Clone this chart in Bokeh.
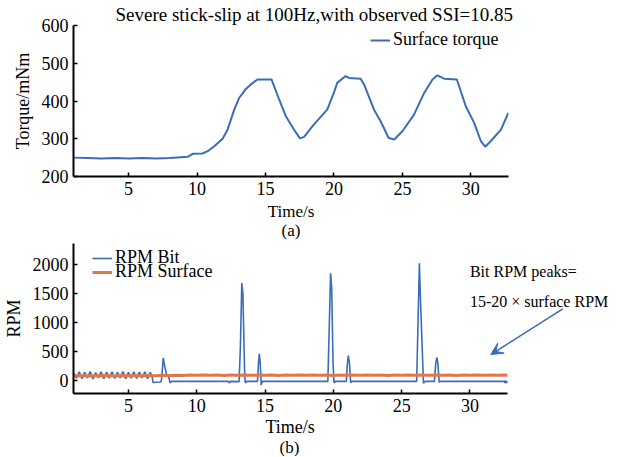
from bokeh.plotting import figure
from bokeh.layouts import column
from bokeh.models import Legend, LegendItem, Label, Arrow, VeeHead, FixedTicker, Title
from bokeh.embed import file_html
from bokeh.resources import INLINE

# ---------------- data ----------------
torque_t = [1.0, 2.0, 3.0, 4.0, 5.0, 6.0, 7.0, 8.0, 8.83, 9.32, 9.68, 10.4, 10.78, 11.26,
            11.87, 12.23, 12.72, 13.08, 13.57, 13.93, 14.42, 15.44, 16.0, 16.48, 17.09,
            17.52, 17.82, 18.54, 19.51, 20.0, 20.24, 20.85, 21.1, 21.95, 22.2, 22.93, 23.4,
            24.0, 24.4, 25.0, 25.85, 26.6, 27.2, 27.56, 28.05, 28.98, 29.63, 30.24, 30.73,
            31.05, 31.46, 32.2, 32.63, 32.75]
torque_v = [250, 249, 248, 249, 248, 249, 248, 249, 251, 252, 260, 261, 267, 280,
            300, 324, 377, 408, 432, 444, 457, 457, 404, 360, 324,
            301, 305, 338, 377, 422, 448, 466, 461, 459, 444, 377, 347,
            302, 298, 320, 364, 422, 457, 468, 459, 457, 386, 342, 294,
            279, 294, 324, 360, 368]

bit_t = [1.0, 1.2, 1.4, 1.6, 1.8, 2.0, 2.2, 2.4, 2.6, 2.8, 3.0, 3.2, 3.4, 3.6, 3.8,
         4.0, 4.2, 4.4, 4.6, 4.8, 5.0, 5.2, 5.4, 5.6, 5.8, 6.0, 6.2, 6.4, 6.6, 6.75,
         6.8, 7.3, 7.4, 7.45, 7.55, 7.65, 7.8, 7.95, 8.05, 8.15, 12.3, 12.4, 12.45,
         13.1, 13.2, 13.3, 13.38, 13.5, 13.55, 13.65, 14.45, 14.52, 14.58, 14.65, 14.72, 14.8,
         19.6, 19.7, 19.8, 19.88, 19.98, 20.05, 20.15, 20.95, 21.03, 21.1, 21.18, 21.27, 21.35,
         26.1, 26.2, 26.3, 26.38, 26.5, 26.6, 26.7, 27.4, 27.5, 27.58, 27.65, 27.75, 27.85,
         32.5, 32.55, 32.6, 32.65, 32.75]
bit_v = [120, 40, 150, 30, 140, 45, 155, 25, 135, 50, 150, 30, 145, 40, 150,
         35, 140, 45, 155, 30, 140, 40, 150, 35, 145, 45, 150, 30, 140, 60,
         -35, -25, -20, 80, 390, 250, 100, 60, -40, -15, -15, -40, -15,
         -20, 600, 1680, 1500, 200, -40, -15, -15, 300, 460, 300, -80, -15,
         -15, 900, 1850, 1600, 300, -40, -15, -15, 300, 430, 300, -40, -15,
         -15, 1000, 2020, 1400, 600, -50, -15, -15, 300, 400, 300, -30, -15,
         -15, -40, 0, -40, -15]

surf_t = [1.0, 1.5, 2.0, 2.5, 3.0, 3.5, 4.0, 4.5, 5.0, 5.5, 6.0, 6.5, 7.0, 7.5, 8.0,
          8.5, 9.0, 9.5, 10.0, 10.5, 11.0, 11.5, 12.0, 12.5, 13.0, 13.5, 14.0, 14.5,
          15.0, 15.5, 16.0, 16.5, 17.0, 17.5, 18.0, 18.5, 19.0, 19.5, 20.0, 20.5, 21.0,
          21.5, 22.0, 22.5, 23.0, 23.5, 24.0, 24.5, 25.0, 25.5, 26.0, 26.5, 27.0, 27.5,
          28.0, 28.5, 29.0, 29.5, 30.0, 30.5, 31.0, 31.5, 32.0, 32.5, 32.75]
surf_v = [80, 86, 78, 84, 80, 88, 79, 85, 82, 87, 80, 85, 83, 90, 86,
          92, 88, 95, 89, 94, 90, 96, 88, 93, 91, 97, 89, 95,
          90, 96, 88, 94, 91, 97, 89, 95, 92, 96, 88, 94, 91,
          97, 89, 95, 90, 96, 88, 94, 91, 97, 90, 95, 89, 96,
          91, 95, 88, 94, 90, 96, 89, 95, 91, 94, 90]

x_ticks = [5, 10, 15, 20, 25, 30]
torque_ticks = [200, 300, 400, 500, 600]
rpm_ticks = [0, 500, 1000, 1500, 2000]

title_text = "Severe stick-slip at 100Hz,with observed SSI=10.85"
note_line1 = "Bit RPM peaks="
note_line2 = "15-20 \u00d7 surface RPM"

BLUE = "#3b6db6"
ORANGE = "#e0784f"
FONT = "Liberation Serif"
FS = "18px"
X0, X1 = 0.98, 32.75


def style(p):
    p.outline_line_color = None
    p.xgrid.grid_line_color = None
    p.ygrid.grid_line_color = None
    p.background_fill_color = "white"
    p.border_fill_color = "white"
    for ax in (p.xaxis[0], p.yaxis[0]):
        ax.axis_line_color = "black"
        ax.axis_line_width = 2
        ax.major_tick_line_color = "black"
        ax.major_tick_line_width = 1.5
        ax.major_tick_in = 4
        ax.major_tick_out = 0
        ax.minor_tick_line_color = None
        ax.major_label_text_font = FONT
        ax.major_label_text_font_size = FS
        ax.major_label_text_color = "black"
        ax.axis_label_text_font = FONT
        ax.axis_label_text_font_size = FS
        ax.axis_label_text_font_style = "normal"
        ax.axis_label_text_color = "black"
        ax.axis_label_text_line_height = 1.0
    p.xaxis[0].major_label_standoff = 5
    p.xaxis[0].axis_label_standoff = 4
    p.yaxis[0].major_label_standoff = 5
    p.yaxis[0].axis_label_standoff = 6
    p.xaxis[0].ticker = FixedTicker(ticks=x_ticks)
    p.xaxis[0].bounds = (X0, X1)


def legend_one(label, renderer, vx, vy):
    return Legend(items=[LegendItem(label=label, renderers=[renderer])],
                  location=(vx, vy), background_fill_alpha=0, border_line_color=None,
                  padding=0, margin=0, glyph_width=20, glyph_height=14, label_standoff=3,
                  label_height=14, label_text_font=FONT, label_text_font_size=FS,
                  label_text_color="black")


def caption(text, offset, standoff, size):
    return Title(text=text, align="left", offset=offset, standoff=standoff, text_font=FONT,
                 text_font_size=size, text_font_style="normal", text_color="black")


# ---------------- top figure ----------------
p1 = figure(frame_width=435, frame_height=151, x_range=(X0, X1), y_range=(200, 600),
            output_backend="svg", toolbar_location=None,
            min_border_left=65, min_border_right=116, min_border_top=10, min_border_bottom=10)
style(p1)
p1.yaxis[0].ticker = FixedTicker(ticks=torque_ticks)
p1.xaxis[0].axis_label = "Time/s\n(a)"
p1.xaxis[0].axis_label_text_font_size = "17px"
p1.yaxis[0].axis_label = "Torque/mNm"
p1.title.text = title_text
p1.title.align = "left"
p1.title.offset = 42
p1.title.standoff = 2
p1.title.text_font = FONT
p1.title.text_font_size = "19px"
p1.title.text_font_style = "normal"
p1.title.text_color = "black"
r1 = p1.line(torque_t, torque_v, line_color=BLUE, line_width=2)
p1.add_layout(legend_one("Surface torque", r1, 297, 126))

# ---------------- bottom figure ----------------
# frame extends right of the axis so the annotation text/arrow are not clipped
px_per_unit = 434 / (X1 - X0)
p2 = figure(frame_width=550, frame_height=150, x_range=(X0, X0 + 550 / px_per_unit),
            y_range=(-224, 2362),
            output_backend="svg", toolbar_location=None,
            min_border_left=65, min_border_right=1, min_border_top=1, min_border_bottom=10)
style(p2)
p2.yaxis[0].ticker = FixedTicker(ticks=rpm_ticks)
p2.yaxis[0].axis_label = "RPM"
p2.add_layout(caption("Time/s", 192, 0, FS), "below")
p2.add_layout(caption("(b)", 206, -1, "17px"), "below")
rb = p2.line(bit_t, bit_v, line_color=BLUE, line_width=1.6)
rs = p2.line(surf_t, surf_v, line_color=ORANGE, line_width=3)
p2.add_layout(legend_one("RPM Bit", rb, 19, 125))
p2.add_layout(legend_one("RPM Surface", rs, 19, 111))

p2.add_layout(Label(x=30.0, y=1880, text=note_line1, text_font=FONT, text_font_size="16px",
                    text_baseline="middle", text_color="black"))
p2.add_layout(Label(x=30.0, y=1370, text=note_line2, text_font=FONT, text_font_size="16px",
                    text_baseline="middle", text_color="black"))
p2.add_layout(Arrow(x_start=36.8, y_start=1236, x_end=31.53, y_end=448,
                    line_color=BLUE, line_width=1.5,
                    end=VeeHead(size=12, line_color=BLUE, fill_color=BLUE, line_width=1)))

layout = column(p1, p2, spacing=0)
open("out.html", "w").write(file_html(layout, INLINE))
